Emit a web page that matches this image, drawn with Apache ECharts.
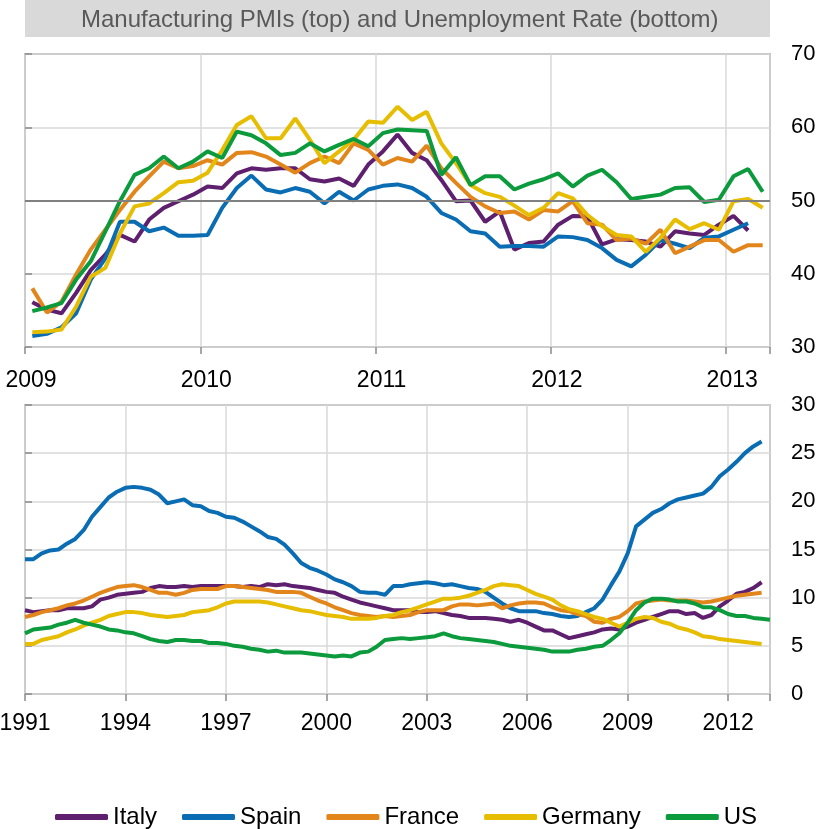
<!DOCTYPE html>
<html>
<head>
<meta charset="utf-8">
<script src="https://cdn.jsdelivr.net/npm/echarts@6/dist/echarts.min.js"></script>
<style>
  html, body { margin: 0; padding: 0; background: #fff; }
  #main { width: 821px; height: 829px; }
</style>
</head>
<body>
<div id="main"></div>
<script>
// PMI, monthly from Jan 2009
var pmiStartYear = 2009;
var italyPmi = [36.1,35.1,34.6,37.4,40.5,42.6,45.3,44.4,47.4,49.0,49.9,50.8, 51.9,51.7,53.7,54.4,54.2,54.4,54.4,52.9,52.6,53.0,52.0,54.9, 56.7,59.0,56.5,55.5,52.8,49.9,50.0,47.1,48.5,43.3,44.2,44.4, 46.7,47.9,47.8,44.0,44.7,44.6,44.4,43.7,45.8,45.5,45.3,46.7, 47.9,45.9];
var spainPmi = [31.5,31.8,32.7,34.6,39.2,42.1,47.1,47.1,45.8,46.3,45.2,45.2, 45.3,49.0,51.7,53.4,51.5,51.1,51.7,51.2,49.6,51.2,50.0,51.5, 52.0,52.2,51.7,50.5,48.3,47.4,45.8,45.5,43.7,43.8,43.8,43.7, 45.1,45.0,44.6,43.5,41.9,41.0,42.6,44.6,44.1,43.5,44.9,45.1, 46.0,46.9];
var francePmi = [38.0,34.7,36.2,39.9,43.3,46.0,48.7,51.2,53.3,55.3,54.4,54.7, 55.5,54.9,56.5,56.6,56.0,54.9,53.8,55.1,56.0,55.1,57.8,56.9, 54.9,55.8,55.3,57.5,54.4,52.4,50.5,49.2,48.3,48.5,47.4,48.7, 48.5,49.9,46.9,46.7,44.6,44.8,44.1,46.0,42.8,43.7,44.6,44.6, 43.0,43.9,43.9];
var germanyPmi = [32.0,32.1,32.4,35.5,39.6,40.8,45.5,49.2,49.6,51.0,52.5,52.7, 53.8,56.9,60.3,61.5,58.5,58.5,61.2,58.3,55.1,56.7,58.3,60.8, 60.6,62.8,61.0,62.1,57.8,55.1,52.1,51.0,50.5,49.3,48.0,49.0, 51.0,50.3,48.0,46.5,45.3,45.1,43.0,44.9,47.4,46.1,46.9,46.0, 49.9,50.2,49.0];
var usPmi = [34.9,35.4,36.0,39.2,41.7,45.8,49.9,53.5,54.4,56.0,54.4,55.3, 56.7,55.8,59.4,58.9,57.8,56.2,56.5,57.8,56.7,57.6,58.4,57.4, 59.2,59.7,59.6,59.5,53.5,55.9,52.1,53.3,53.3,51.5,52.3,52.9, 53.7,51.9,53.4,54.2,52.5,50.2,50.5,50.8,51.7,51.8,49.8,50.1, 53.3,54.3,51.2];

// Unemployment rate, quarterly from 1991 Q1
var unempStartYear = 1991;
var italyUnemp = [8.7,8.5,8.6,8.7, 8.7,8.9,8.9,8.9, 9.1,9.8,10.0,10.3, 10.4,10.5,10.6,11.0, 11.2,11.1,11.1,11.2, 11.1,11.2,11.2,11.2, 11.2,11.2,11.1,11.2, 11.1,11.4,11.3,11.4, 11.2,11.1,11.0,10.8, 10.6,10.5,10.1,9.8, 9.5,9.3,9.1,8.9, 8.7,8.7,8.7,8.5, 8.5,8.6,8.4,8.2, 8.1,7.9,7.9,7.9, 7.8,7.7,7.5,7.7, 7.4,7.0,6.6,6.6, 6.2,5.8,6.0,6.2, 6.4,6.7,6.8,6.7, 7.0,7.4,7.7,8.0, 8.3,8.6,8.6,8.3, 8.4,7.9,8.2,9.1, 9.7,10.4,10.6,11.0, 11.6];
var spainUnemp = [14.0,14.0,14.6,14.9, 15.0,15.6,16.1,17.0, 18.4,19.4,20.4,21.0, 21.4,21.5,21.4,21.2, 20.7,19.8,20.0,20.2, 19.6,19.5,19.0,18.8, 18.4,18.3,17.9,17.4, 16.9,16.3,16.1,15.5, 14.6,13.6,13.1,12.8, 12.4,11.9,11.6,11.2, 10.6,10.5,10.5,10.3, 11.2,11.2,11.4,11.5, 11.6,11.5,11.3,11.4, 11.2,11.0,10.9,10.6, 10.0,9.4,8.9,8.6, 8.6,8.6,8.4,8.3, 8.1,8.0,8.1,8.5, 8.9,9.8,11.3,12.7, 14.6,17.4,18.1,18.8, 19.2,19.8,20.2,20.4, 20.6,20.8,21.5,22.6, 23.3,24.1,25.0,25.7, 26.2];
var franceUnemp = [8.0,8.2,8.5,8.7, 8.9,9.2,9.4,9.7, 10.1,10.5,10.8,11.1, 11.2,11.3,11.1,10.8, 10.5,10.5,10.3,10.5, 10.8,10.9,10.9,10.9, 11.2,11.2,11.1,11.0, 10.9,10.8,10.6,10.6, 10.6,10.5,10.1,9.7, 9.4,9.0,8.7,8.4, 8.2,8.1,8.0,8.1, 8.0,8.1,8.2,8.5, 8.7,8.7,8.7,9.1, 9.3,9.3,9.2,9.3, 9.4,8.9,9.2,9.4, 9.5,9.5,9.4,9.0, 8.7,8.6,8.3,8.1, 7.5,7.4,7.8,8.0, 8.6,9.4,9.6,9.7, 9.8,9.7,9.7,9.7, 9.6,9.5,9.6,9.8, 10.0,10.2,10.3,10.4, 10.5];
var germanyUnemp = [5.2,5.2,5.6,5.8, 6.0,6.4,6.7,7.1, 7.4,7.7,8.1,8.3, 8.5,8.5,8.4,8.2, 8.1,8.0,8.1,8.2, 8.5,8.6,8.7,9.0, 9.4,9.6,9.6,9.6, 9.6,9.5,9.3,9.1, 8.9,8.7,8.6,8.4, 8.2,8.1,8.0,7.8, 7.8,7.8,7.9,8.1, 8.2,8.5,8.7,9.0, 9.3,9.6,9.9,9.9, 10.0,10.2,10.5,10.8, 11.2,11.4,11.3,11.2, 10.8,10.4,10.1,9.8, 9.2,8.8,8.6,8.3, 8.0,7.8,7.4,7.0, 7.4,7.8,8.0,7.9, 7.5,7.3,6.9,6.7, 6.4,6.0,5.9,5.7, 5.6,5.5,5.4,5.3, 5.2];
var usUnemp = [6.3,6.7,6.8,6.9, 7.2,7.4,7.7,7.4, 7.2,7.0,6.7,6.6, 6.4,6.3,6.0,5.7, 5.5,5.4,5.6,5.6, 5.5,5.5,5.3,5.3, 5.2,5.0,4.9,4.7, 4.6,4.4,4.5,4.3, 4.3,4.3,4.2,4.1, 4.0,3.9,4.0,3.9, 4.3,4.4,4.9,5.6, 5.7,5.8,5.7,5.8, 5.9,6.0,6.3,6.0, 5.8,5.7,5.6,5.5, 5.4,5.2,5.0,4.9, 4.8,4.7,4.6,4.4, 4.4,4.4,4.6,4.7, 4.9,5.0,5.6,6.3, 7.4,8.7,9.5,9.9, 9.9,9.8,9.6,9.6, 9.4,9.0,9.0,8.7, 8.3,8.1,8.1,7.9, 7.8,7.7];

var countries = ['Italy', 'Spain', 'France', 'Germany', 'US'];
var colors = ['#5e1f6e', '#0a6db3', '#e2861c', '#e6bd00', '#0b9a3c'];
var pmiTicks = [30, 40, 50, 60, 70];
var unempTicks = [0, 5, 10, 15, 20, 25, 30];

var pmiData = [italyPmi, spainPmi, francePmi, germanyPmi, usPmi];
var unempData = [italyUnemp, spainUnemp, franceUnemp, germanyUnemp, usUnemp];

// monthly points sit mid-month, quarterly points at quarter start
function monthly(arr) {
  return arr.map(function (v, i) { return [pmiStartYear + (i + 0.5) / 12, v]; });
}
function quarterly(arr) {
  return arr.map(function (v, i) { return [unempStartYear + i * 0.25, v]; });
}

var chart = echarts.init(document.getElementById('main'));
var xFont = { fontFamily: 'Liberation Sans', fontSize: 23, color: '#000' };
var yFont = { fontFamily: 'Liberation Sans', fontSize: 22, color: '#000' };
var gridLineColor = '#d9d9d9';
var frameColor = '#8a8a8a';

function yearLabel(v) { return Number.isInteger(v) ? String(v) : ''; }

var series = [];
countries.forEach(function (name, k) {
  var s = {
    name: name, type: 'line', xAxisIndex: 0, yAxisIndex: 0,
    data: monthly(pmiData[k]), showSymbol: false, symbol: 'none',
    lineStyle: { width: 4, color: colors[k] }, itemStyle: { color: colors[k] }
  };
  if (k === 0) {
    // the 50 line
    s.markLine = {
      silent: true, symbol: 'none', label: { show: false },
      lineStyle: { color: '#808080', width: 2, type: 'solid' },
      data: [{ yAxis: 50 }]
    };
  }
  series.push(s);
});
countries.forEach(function (name, k) {
  series.push({
    name: name, type: 'line', xAxisIndex: 1, yAxisIndex: 2,
    data: quarterly(unempData[k]), showSymbol: false, symbol: 'none',
    lineStyle: { width: 4, color: colors[k] }, itemStyle: { color: colors[k] }
  });
});

var option = {
  animation: false,
  backgroundColor: '#fff',
  color: colors,
  graphic: [
    { type: 'rect', left: 25, top: 0, shape: { width: 745, height: 37 }, style: { fill: '#d9d9d9' }, z: 0 },
    { type: 'text', left: 81, top: 8, style: { text: 'Manufacturing PMIs (top) and Unemployment Rate (bottom)', fill: '#595959', font: '24px "Liberation Sans"' }, z: 1 }
  ],
  legend: {
    data: countries, left: 50, top: 800, itemWidth: 53, itemHeight: 6, itemGap: 25,
    icon: 'roundRect',
    textStyle: { fontFamily: 'Liberation Sans', fontSize: 24, color: '#000' }
  },
  grid: [
    { left: 25, right: 51, top: 54, height: 293, outerBoundsMode: 'none', show: true, borderColor: frameColor, borderWidth: 1.5, backgroundColor: 'transparent' },
    { left: 25, right: 51, top: 405, height: 289, outerBoundsMode: 'none', show: true, borderColor: frameColor, borderWidth: 1.5, backgroundColor: 'transparent' }
  ],
  xAxis: [
    {
      type: 'value', gridIndex: 0, min: 2009, max: 2013.25, interval: 1,
      axisLine: { show: false },
      axisTick: { show: true, length: 7, lineStyle: { color: frameColor, width: 1.5 } },
      axisLabel: Object.assign({ margin: 22, padding: [0, 0, 0, 12], formatter: yearLabel }, xFont),
      splitLine: { show: true, lineStyle: { color: gridLineColor, width: 1.5 } }
    },
    {
      type: 'value', gridIndex: 1, min: 1991, max: 2013.25, interval: 3,
      axisLine: { show: false },
      axisTick: { show: true, length: 7, lineStyle: { color: frameColor, width: 1.5 } },
      axisLabel: Object.assign({ margin: 18, formatter: yearLabel }, xFont),
      splitLine: { show: true, lineStyle: { color: gridLineColor, width: 1.5 } }
    }
  ],
  yAxis: [
    {
      type: 'value', gridIndex: 0, position: 'right', min: pmiTicks[0], max: pmiTicks[pmiTicks.length - 1], interval: 10,
      axisLine: { show: false }, axisTick: { show: false },
      axisLabel: Object.assign({ margin: 21 }, yFont),
      splitLine: { show: true, lineStyle: { color: gridLineColor, width: 1.5 } }
    },
    {
      type: 'value', gridIndex: 0, position: 'left', min: pmiTicks[0], max: pmiTicks[pmiTicks.length - 1], interval: 10,
      axisLine: { show: false }, axisLabel: { show: false }, splitLine: { show: false },
      axisTick: { show: true, inside: true, length: 7, lineStyle: { color: frameColor, width: 1.5 } }
    },
    {
      type: 'value', gridIndex: 1, position: 'right', min: unempTicks[0], max: unempTicks[unempTicks.length - 1], interval: 5,
      axisLine: { show: false }, axisTick: { show: false },
      axisLabel: Object.assign({ margin: 21 }, yFont),
      splitLine: { show: true, lineStyle: { color: gridLineColor, width: 1.5 } }
    },
    {
      type: 'value', gridIndex: 1, position: 'left', min: unempTicks[0], max: unempTicks[unempTicks.length - 1], interval: 5,
      axisLine: { show: false }, axisLabel: { show: false }, splitLine: { show: false },
      axisTick: { show: true, inside: true, length: 7, lineStyle: { color: frameColor, width: 1.5 } }
    }
  ],
  series: series
};

chart.setOption(option);
</script>
</body>
</html>
